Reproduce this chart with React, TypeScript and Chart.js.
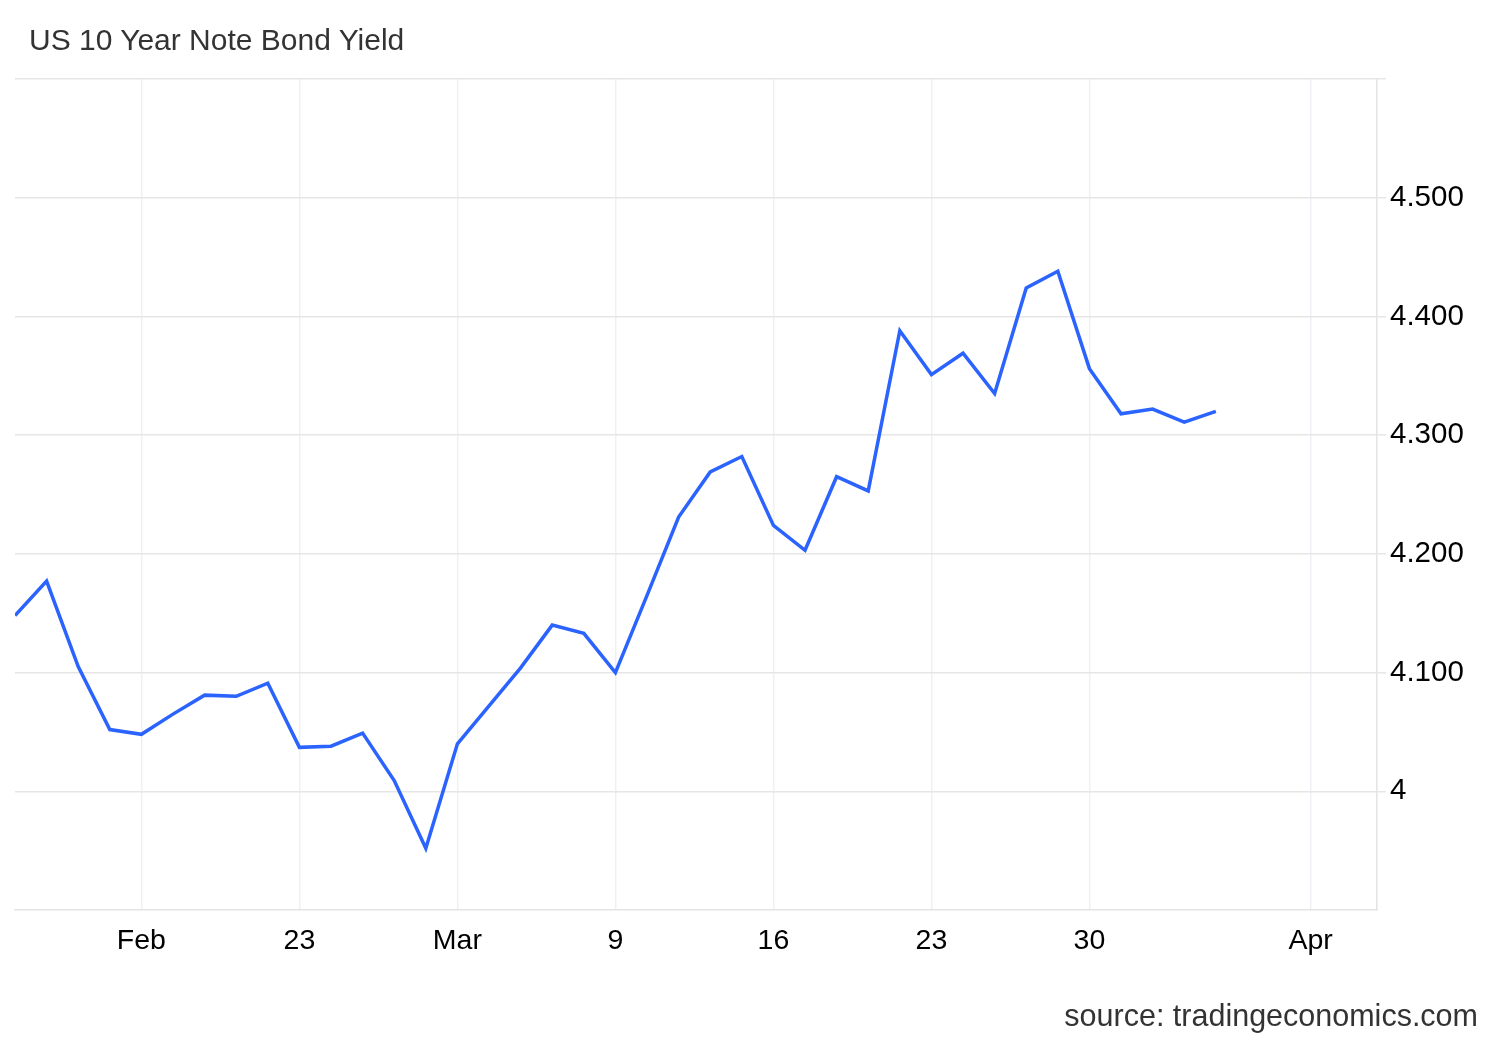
import React, { useEffect, useRef } from "react";
import { Chart, registerables } from "chart.js";

Chart.register(...registerables);

// Business-day index of each observation (0 = first day shown)
const dayIndex: number[] = Array.from({ length: 39 }, (_, i) => i);
const yields: number[] = [
  4.148, 4.177, 4.105, 4.052, 4.048, 4.065, 4.081, 4.080, 4.091, 4.037,
  4.038, 4.049, 4.009, 3.952, 4.040, 4.072, 4.104, 4.140, 4.133, 4.100,
  4.165, 4.231, 4.269, 4.282, 4.224, 4.203, 4.265, 4.253, 4.388, 4.351,
  4.369, 4.335, 4.424, 4.438, 4.356, 4.318, 4.322, 4.311, 4.320,
];

const xTickPositions: number[] = [4, 9, 14, 19, 24, 29, 34, 41];
const xTickLabels: string[] = ["Feb", "23", "Mar", "9", "16", "23", "30", "Apr"];

const yTickValues: number[] = [3.9, 4.0, 4.1, 4.2, 4.3, 4.4, 4.5, 4.6];
const yTickLabels: string[] = ["", "4", "4.100", "4.200", "4.300", "4.400", "4.500", ""];

const TITLE = "US 10 Year Note Bond Yield";
const SOURCE = "source: tradingeconomics.com";

export default function App() {
  const canvasRef = useRef<HTMLCanvasElement | null>(null);

  useEffect(() => {
    const canvas = canvasRef.current;
    if (!canvas) return;
    const font = "'Liberation Sans', Arial, Helvetica, sans-serif";
    const chart = new Chart(canvas, {
      type: "line",
      data: {
        datasets: [
          {
            label: TITLE,
            data: dayIndex.map((d, i) => ({ x: d, y: yields[i] })),
            borderColor: "#2b63ff",
            borderWidth: 3.5,
            pointRadius: 0,
            tension: 0,
            fill: false,
          },
        ],
      },
      options: {
        responsive: false,
        animation: false,
        devicePixelRatio: 1,
        layout: { padding: { left: 15, top: 79, right: 0, bottom: 0 } },
        plugins: {
          legend: { display: false },
          tooltip: { enabled: false },
          title: { display: false },
        },
        scales: {
          x: {
            type: "linear",
            min: 0,
            max: 43.1,
            afterBuildTicks: (scale: any) => {
              scale.ticks = xTickPositions.map((v) => ({ value: v }));
            },
            afterFit: (scale: any) => {
              scale.height = 130;
            },
            grid: {
              color: "#edf1f6",
              lineWidth: 1.5,
              drawTicks: false,
            },
            border: { display: true, color: "#e4e4e4", width: 1.5 },
            ticks: {
              padding: 14,
              maxRotation: 0,
              autoSkip: false,
              color: "#000",
              font: { family: font, size: 28.5 },
              callback: (v: any) => {
                const i = xTickPositions.indexOf(Number(v));
                return i >= 0 ? xTickLabels[i] : "";
              },
            },
          },
          y: {
            position: "right",
            min: 3.9,
            max: 4.6,
            afterBuildTicks: (scale: any) => {
              scale.ticks = yTickValues.map((v) => ({ value: v }));
            },
            afterFit: (scale: any) => {
              scale.width = 123;
            },
            grid: {
              color: (ctx: any) =>
                ctx.tick && ctx.tick.value < 3.95 ? "rgba(0,0,0,0)" : "#e6e6e6",
              lineWidth: 1.5,
              drawTicks: true,
              tickLength: 9,
            },
            border: { display: true, color: "#e4e4e4", width: 1.5 },
            ticks: {
              padding: 4,
              color: "#000",
              font: { family: font, size: 29.5 },
              callback: (v: any) => {
                const i = yTickValues.findIndex((t) => Math.abs(t - Number(v)) < 1e-6);
                return i >= 0 ? yTickLabels[i] : "";
              },
            },
          },
        },
      },
    } as any);
    return () => chart.destroy();
  }, []);

  const textFont = "'Liberation Sans', Arial, Helvetica, sans-serif";
  return (
    <div
      style={{
        position: "absolute",
        left: 0,
        top: 0,
        width: 1500,
        height: 1040,
        background: "#fff",
        overflow: "hidden",
      }}
    >
      <canvas
        ref={canvasRef}
        width={1500}
        height={1040}
        style={{ position: "absolute", left: 0, top: 0, width: 1500, height: 1040 }}
      />
      <div
        style={{
          position: "absolute",
          left: 29,
          top: 25,
          fontFamily: textFont,
          fontSize: 30,
          lineHeight: "30px",
          color: "#333",
          whiteSpace: "nowrap",
        }}
      >
        {TITLE}
      </div>
      <div
        style={{
          position: "absolute",
          right: 22,
          top: 1000,
          fontFamily: textFont,
          fontSize: 30.5,
          lineHeight: "30px",
          color: "#333",
          whiteSpace: "nowrap",
        }}
      >
        {SOURCE}
      </div>
    </div>
  );
}
